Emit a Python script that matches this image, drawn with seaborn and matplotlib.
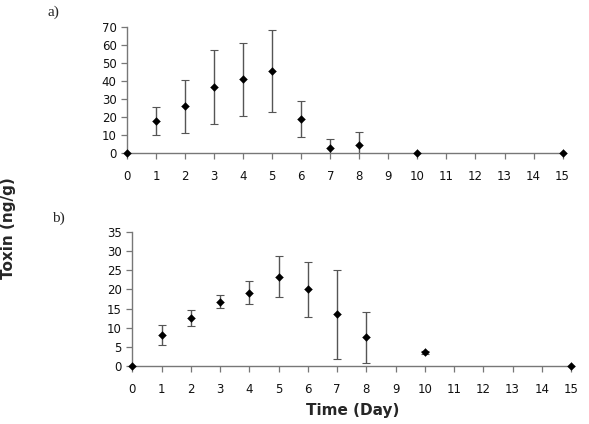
import matplotlib
matplotlib.use("Agg")
import matplotlib.pyplot as plt
import pandas as pd
import seaborn as sns

# Day of sampling
days_a = [0, 1, 2, 3, 4, 5, 6, 7, 8, 10, 15]
toxin_a = [0, 17.7, 26.0, 36.6, 41.0, 45.5, 19.0, 3.0, 4.4, 0, 0]
sd_a = [0, 7.9, 14.9, 20.6, 20.3, 22.9, 10.2, 4.8, 7.4, 0, 0]

days_b = [0, 1, 2, 3, 4, 5, 6, 7, 8, 10, 15]
toxin_b = [0, 8.2, 12.5, 16.8, 19.1, 23.3, 20.0, 13.5, 7.5, 3.6, 0]
sd_b = [0, 2.6, 2.1, 1.7, 3.0, 5.3, 7.1, 11.5, 6.6, 0.4, 0]

xticks = list(range(0, 16))

sns.set_style("white")
plt.rcParams["font.family"] = ["DejaVu Sans"]

fig = plt.figure(figsize=(5.89, 4.24), dpi=100)
ax_a = fig.add_axes([0.2156, 0.639, 0.7445, 0.2966])
ax_b = fig.add_axes([0.2246, 0.136, 0.7500, 0.3175])

panels = [
    (ax_a, days_a, toxin_a, sd_a, 70, 10, "a)", (0.08, 0.97)),
    (ax_b, days_b, toxin_b, sd_b, 35, 5, "b)", (0.088, 0.485)),
]

for ax, days, tox, sd, ymax, ystep, tag, tagpos in panels:
    df = pd.DataFrame({"day": days, "toxin": tox, "sd": sd})
    has_err = df["sd"] > 0
    ax.errorbar(df.loc[has_err, "day"], df.loc[has_err, "toxin"],
                yerr=df.loc[has_err, "sd"], fmt="none", ecolor="#555555",
                elinewidth=1.0, capsize=3, capthick=0.8, zorder=2)
    sns.scatterplot(data=df, x="day", y="toxin", ax=ax, marker="D", s=16,
                    color="black", edgecolor="black", linewidth=0.3,
                    zorder=3, clip_on=False)
    ax.set_xlim(0, 15.1)
    ax.set_ylim(0, ymax)
    ax.set_xticks(xticks)
    ax.set_yticks(range(0, ymax + 1, ystep))
    ax.set_xlabel("")
    ax.set_ylabel("")
    for side in ["top", "right"]:
        ax.spines[side].set_visible(False)
    for side in ["left", "bottom"]:
        ax.spines[side].set_color("#777777")
        ax.spines[side].set_linewidth(1.0)
    ax.tick_params(axis="both", which="major", direction="out", length=4,
                   width=0.9, color="#777777", labelsize=8.5,
                   labelcolor="#111111", bottom=True, left=True)
    ax.tick_params(axis="x", pad=8)
    fig.text(tagpos[0], tagpos[1], tag, fontsize=11,
             family="Liberation Serif", ha="left", va="center")

fig.text(0.598, 0.033, "Time (Day)", fontsize=11, fontweight="bold",
         ha="center", va="center")
fig.text(0.001, 0.462, "Toxin (ng/g)", fontsize=11, fontweight="bold",
         ha="left", va="center", rotation=90)

fig.savefig("out.png", dpi=100)
